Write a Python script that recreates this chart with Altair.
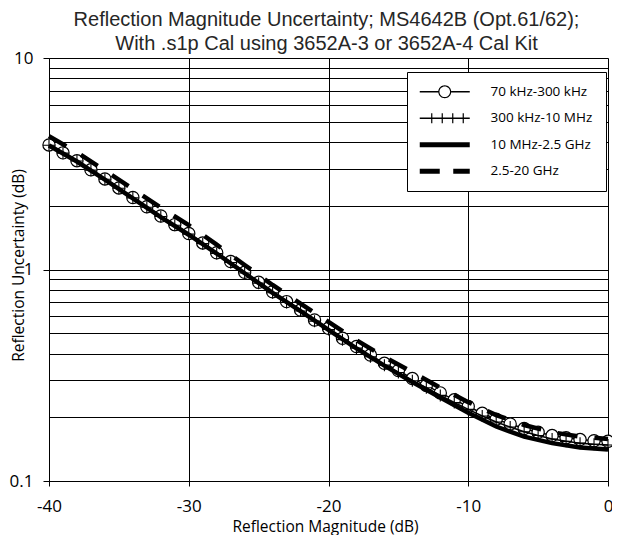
import altair as alt
import pandas as pd

# ---------------- data ----------------
series_names = ["70 kHz-300 kHz", "300 kHz-10 MHz", "10 MHz-2.5 GHz", "2.5-20 GHz"]

mag_fine = [-40, -39, -38, -37, -36, -35, -34, -33, -32, -31, -30,
            -29, -28, -27, -26, -25, -24, -23, -22, -21, -20,
            -19, -18, -17, -16, -15, -14, -13, -12, -11, -10,
            -9, -8, -7, -6, -5, -4, -3, -2, -1, 0]

unc_70k = [3.88, 3.56, 3.27, 2.96, 2.68, 2.43, 2.19, 1.98, 1.79, 1.63, 1.48,
           1.335, 1.20, 1.09, 0.97, 0.87, 0.785, 0.705, 0.643, 0.577, 0.527,
           0.473, 0.432, 0.394, 0.360, 0.333, 0.305, 0.283, 0.261, 0.242, 0.225,
           0.209, 0.196, 0.186, 0.177, 0.170, 0.164, 0.160, 0.157, 0.155, 0.154]

unc_300k = [3.87, 3.55, 3.26, 2.95, 2.67, 2.42, 2.18, 1.97, 1.78, 1.62, 1.47,
            1.325, 1.19, 1.08, 0.962, 0.862, 0.777, 0.698, 0.636, 0.570, 0.520,
            0.466, 0.425, 0.387, 0.353, 0.326, 0.298, 0.276, 0.254, 0.235, 0.218,
            0.203, 0.190, 0.180, 0.171, 0.164, 0.158, 0.154, 0.151, 0.149, 0.148]

mag_coarse = [-40, -38, -36, -34, -32, -30, -28, -26, -24, -22, -20,
              -18, -16, -14, -12, -10, -8, -6, -4, -2, 0]

unc_10m = [3.86, 3.24, 2.66, 2.17, 1.77, 1.46, 1.19, 0.96, 0.775, 0.635, 0.518,
           0.424, 0.351, 0.294, 0.248, 0.210, 0.181, 0.162, 0.151, 0.144, 0.141]

unc_2g5 = [4.27, 3.58, 2.94, 2.40, 1.96, 1.62, 1.31, 1.05, 0.845, 0.690, 0.565,
           0.463, 0.386, 0.327, 0.276, 0.236, 0.205, 0.184, 0.170, 0.162, 0.158]

x_ticks = [-40, -30, -20, -10, 0]
y_grid = [0.1, 0.2, 0.3, 0.4, 0.5, 0.6, 0.7, 0.8, 0.9,
          1, 2, 3, 4, 5, 6, 7, 8, 9, 10]

# legend glyphs (filled SVG paths, unit = 5 px at symbolSize 100)
legend_paths = [
    # thin line with open circle
    "M-1.4,-0.15H2.3V0.15H-1.4Z M4.9,-0.15H8.6V0.15H4.9Z "
    "M2.3,0A1.3,1.3 0 1,0 4.9,0A1.3,1.3 0 1,0 2.3,0Z "
    "M2.54,0A1.06,1.06 0 1,1 4.66,0A1.06,1.06 0 1,1 2.54,0Z",
    # thin line with crosses
    "M-1.4,-0.15H8.6V0.15H-1.4Z "
    "M0.88,-1H1.12V1H0.88Z M2.98,-1H3.22V1H2.98Z "
    "M5.08,-1H5.32V1H5.08Z M7.18,-1H7.42V1H7.18Z",
    # thick solid line
    "M-1.4,-0.5H8.6V0.5H-1.4Z",
    # thick dashed line
    "M-1.4,-0.5H2.6V0.5H-1.4Z M5.3,-0.5H8.6V0.5H5.3Z",
]

df_70k = pd.DataFrame({"mag": mag_fine, "unc": unc_70k})
df_300k = pd.DataFrame({"mag": mag_fine, "unc": unc_300k})
df_10m = pd.DataFrame({"mag": mag_coarse, "unc": unc_10m})
df_2g5 = pd.DataFrame({"mag": mag_coarse, "unc": unc_2g5})
df_leg = pd.DataFrame({"series": series_names})

FONT = "Open Sans"

x_enc = alt.X(
    "mag:Q",
    scale=alt.Scale(domain=[-40, 0], nice=False, zero=False),
    axis=alt.Axis(
        values=x_ticks,
        grid=True, gridColor="#000000", gridWidth=1,
        domainColor="#000000", tickColor="#000000", tickSize=5,
        labelExpr="toString(datum.value)", labelFlush=False,
        labelFont=FONT, labelFontSize=17, labelColor="#000000", labelPadding=12,
        title="Reflection Magnitude (dB)",
        titleFont=FONT, titleFontSize=15.5, titleFontWeight="normal", titleColor="#000000",
        titleX=276, titleY=45, titleBaseline="middle",
    ),
)

y_enc = alt.Y(
    "unc:Q",
    scale=alt.Scale(type="log", domain=[0.1, 10], nice=False),
    axis=alt.Axis(
        values=y_grid,
        grid=True, gridColor="#000000", gridWidth=1,
        domainColor="#000000", tickSize=6,
        tickColor=alt.condition("datum.value == 0.1 || datum.value == 1 || datum.value == 10",
                                alt.value("#000000"), alt.value("transparent")),
        labelExpr="(datum.value == 0.1 || datum.value == 1 || datum.value == 10) ? toString(datum.value) : ''",
        labelFlush=False,
        labelFont=FONT, labelFontSize=17, labelColor="#000000", labelPadding=10,
        title="Reflection Uncertainty (dB)",
        titleFont=FONT, titleFontSize=15.5, titleFontWeight="normal", titleColor="#000000",
        titleX=-31, titleY=207, titleBaseline="middle", titleAngle=-90,
    ),
)

line_70k = alt.Chart(df_70k).mark_line(color="black", strokeWidth=1.5).encode(x=x_enc, y=y_enc)
pts_70k = alt.Chart(df_70k).mark_point(
    shape="circle", size=150, filled=False, fill="white", fillOpacity=1,
    stroke="black", strokeWidth=1.2, opacity=1
).encode(x="mag:Q", y="unc:Q")

line_300k = alt.Chart(df_300k).mark_line(color="black", strokeWidth=1.5).encode(x="mag:Q", y="unc:Q")
pts_300k = alt.Chart(df_300k).mark_point(
    shape="M-1,0H1M0,-1V1", size=144, filled=False,
    stroke="black", strokeWidth=1.1, opacity=1
).encode(x="mag:Q", y="unc:Q")

line_10m = alt.Chart(df_10m).mark_line(color="black", strokeWidth=4.5).encode(x="mag:Q", y="unc:Q")
line_2g5 = alt.Chart(df_2g5).mark_line(
    color="black", strokeWidth=4.5, strokeDash=[20, 17], strokeCap="butt"
).encode(x="mag:Q", y="unc:Q")

legend_layer = alt.Chart(df_leg).mark_point(filled=True, color="black", size=100, opacity=0).encode(
    shape=alt.Shape(
        "series:N",
        scale=alt.Scale(domain=series_names, range=legend_paths),
        legend=alt.Legend(
            title=None, orient="none", legendX=358, legendY=14, direction="vertical",
            padding=13, fillColor="white", strokeColor="black",
            labelFont=FONT, labelFontSize=13.5, labelColor="#000000",
            symbolSize=100, symbolStrokeWidth=0, symbolFillColor="black",
            symbolOpacity=1, rowPadding=11.5, labelOffset=57,
        ),
    )
)

chart = alt.layer(
    line_70k, pts_70k, line_300k, pts_300k, line_10m, line_2g5, legend_layer
).properties(
    width=559,
    height=423,
    autosize=alt.AutoSizeParams(type="none"),
    padding={"left": 41, "top": 50, "right": 4, "bottom": 54},
    title=alt.TitleParams(
        text=["Reflection Magnitude Uncertainty; MS4642B (Opt.61/62);",
              "With .s1p Cal using 3652A-3 or 3652A-4 Cal Kit"],
        font="Liberation Sans", fontSize=20, fontWeight="normal", color="#262626",
        anchor="middle", frame="group", dx=-2, dy=5, offset=0, lineHeight=24,
    ),
).configure_view(stroke=None).configure(background="white")

chart.save("out.html", embed_options={"renderer": "svg", "actions": False})
